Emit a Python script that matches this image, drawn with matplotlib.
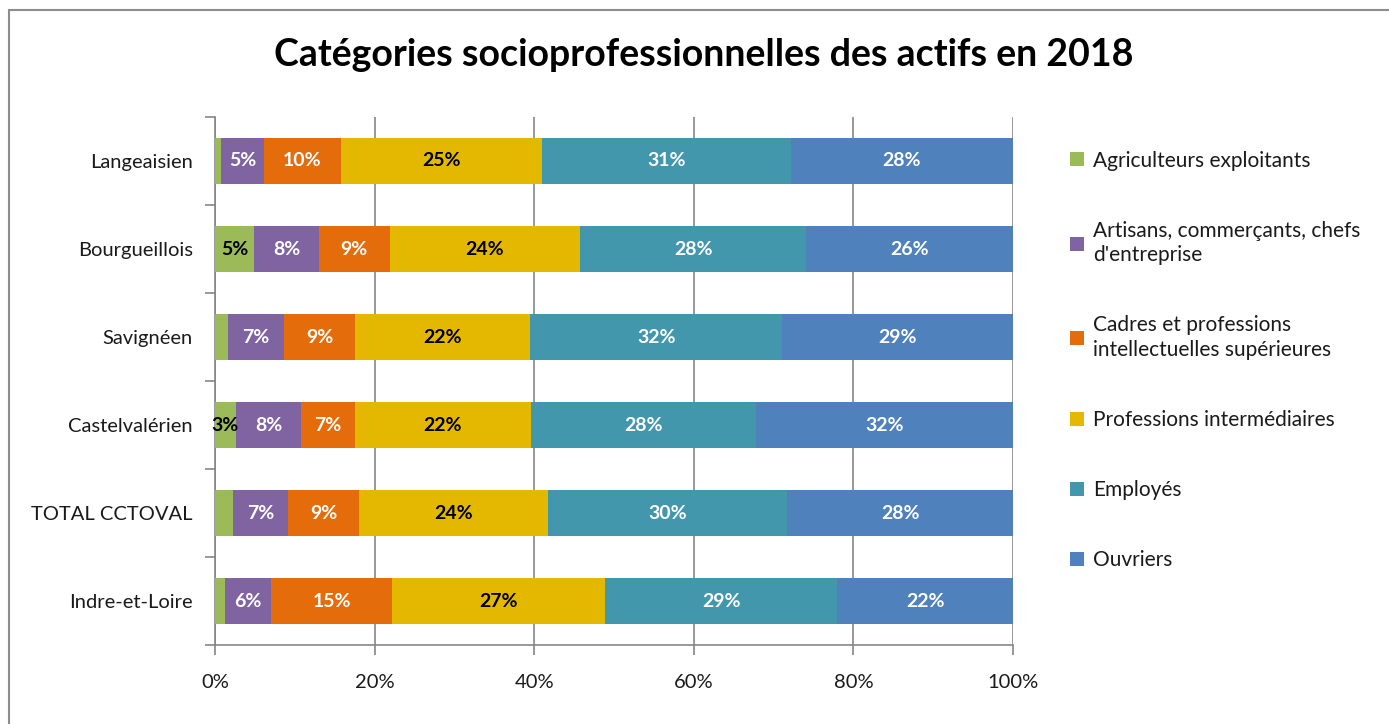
import matplotlib.pyplot as plt
import numpy as np
from matplotlib.patches import Rectangle

plt.rcParams["font.family"] = ["Lato", "DejaVu Sans"]

# Data (share of workforce, %)
zones = ["Langeaisien", "Bourgueillois", "Savignéen", "Castelvalérien",
         "TOTAL CCTOVAL", "Indre-et-Loire"]
categories = ["Agriculteurs exploitants",
              "Artisans, commerçants, chefs\nd'entreprise",
              "Cadres et professions\nintellectuelles supérieures",
              "Professions intermédiaires",
              "Employés",
              "Ouvriers"]
agriculteurs = [0.75, 4.9, 1.6, 2.6, 2.3, 1.2]
artisans = [5.4, 8.1, 7.1, 8.2, 6.9, 5.8]
cadres = [9.6, 8.9, 8.9, 6.7, 8.9, 15.2]
intermediaires = [25.2, 23.8, 21.9, 22.1, 23.6, 26.7]
employes = [31.2, 28.4, 31.6, 28.2, 30.0, 29.1]
ouvriers = [27.85, 25.9, 28.9, 32.2, 28.3, 22.0]
xticks = [0, 20, 40, 60, 80, 100]

colors = ["#9BBB59", "#8064A2", "#E46C0A", "#E5B800", "#4397AD", "#4F81BD"]
label_colors = ["black", "white", "white", "black", "white", "white"]

series = [agriculteurs, artisans, cadres, intermediaires, employes, ouvriers]

fig = plt.figure(figsize=(13.89, 7.24), dpi=100)
ax = fig.add_axes([0.1548, 0.1091, 0.5745, 0.7293])

y = np.arange(len(zones))[::-1]
left = np.zeros(len(zones))
for vals, col, lcol, name in zip(series, colors, label_colors, categories):
    vals = np.array(vals)
    ax.barh(y, vals, left=left, height=0.52, color=col, label=name, zorder=3)
    for yi, l, v in zip(y, left, vals):
        if v >= 2.5:
            ax.text(l + v / 2, yi, f"{round(v):d}%", ha="center", va="center",
                    color=lcol, fontsize=14, fontweight="bold", zorder=4)
    left += vals

ax.set_xlim(0, 100)
ax.set_ylim(-0.5, len(zones) - 0.5)
ax.set_xticks(xticks)
ax.set_xticklabels([f"{t}%" for t in xticks])
ax.set_yticks(y)
ax.set_yticklabels(zones)
ax.set_yticks(np.arange(len(zones) + 1) - 0.5, minor=True)

ax.grid(axis="x", color="#868686", linewidth=1.2, zorder=0)
for s in ["top", "right"]:
    ax.spines[s].set_visible(False)
for s in ["left", "bottom"]:
    ax.spines[s].set_color("#868686")
    ax.spines[s].set_linewidth(1.2)

ax.tick_params(axis="y", which="major", length=0, pad=16, labelsize=14.5,
               labelcolor="#1a1a1a")
ax.tick_params(axis="y", which="minor", length=7, color="#868686", width=1.2)
ax.tick_params(axis="x", length=7, color="#868686", width=1.2, labelsize=14.5,
               pad=14, labelcolor="#1a1a1a")

fig.text(0.507, 0.924, "Catégories socioprofessionnelles des actifs en 2018",
         ha="center", va="center", fontsize=27, fontweight="bold")

handles, labels = ax.get_legend_handles_labels()
leg = fig.legend(handles, labels, loc="upper left", bbox_to_anchor=(0.757, 0.818),
                 frameon=False, fontsize=15, labelspacing=2.4, handlelength=0.65,
                 handleheight=0.65, handletextpad=0.45, labelcolor="#1a1a1a")
for t in leg.get_texts():
    t.set_linespacing(1.3)

fig.patches.append(Rectangle((0.0065, -0.1), 1.1, 1.086, transform=fig.transFigure,
                             fill=False, edgecolor="#8c8c8c", linewidth=1.5))

plt.savefig("out.png", dpi=100)
